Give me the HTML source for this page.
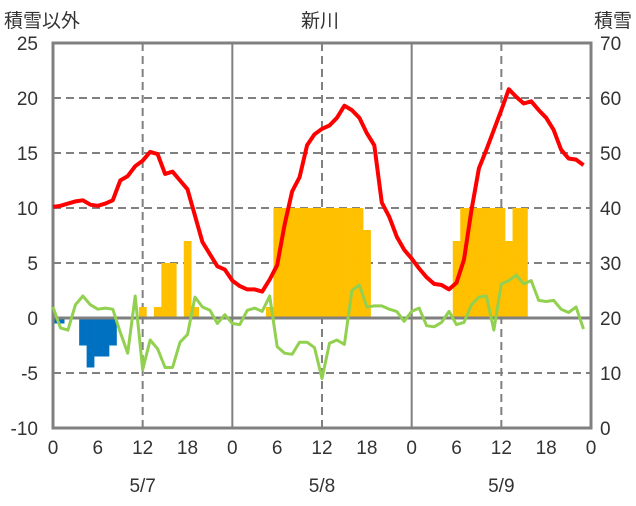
<!DOCTYPE html>
<html><head><meta charset="utf-8"><style>
body{margin:0;background:#fff;}
svg text{font-family:"Liberation Sans","Noto Sans CJK JP",sans-serif;fill:#333;}
</style></head><body>
<svg id="c" width="636" height="501" xmlns="http://www.w3.org/2000/svg"></svg>
<script>
const hours = [];
for (let i = 0; i < 72; i++) hours.push(i);
const redSeries = [10.1,10.2,10.4,10.6,10.7,10.3,10.2,10.4,10.7,12.5,12.9,13.8,14.3,15.1,14.9,13.1,13.3,12.5,11.7,9.3,6.9,5.8,4.7,4.4,
 3.4,2.9,2.6,2.6,2.4,3.5,4.8,8.5,11.5,12.8,15.7,16.7,17.2,17.5,18.2,19.3,18.9,18.2,16.8,15.7,10.5,9.2,7.4,6.2,
 5.4,4.5,3.7,3.1,3.0,2.6,3.2,5.3,9.8,13.6,15.3,17.1,18.9,20.8,20.1,19.5,19.7,18.9,18.2,17.1,15.3,14.5,14.4,13.9];
const greenSeries = [1,-0.9,-1.1,1.2,2,1.2,0.8,0.9,0.8,-1.3,-3.2,2,-4.7,-2,-2.8,-4.5,-4.5,-2.2,-1.5,1.9,1,0.7,-0.5,0.3,
 -0.5,-0.6,0.7,0.9,0.6,2,-2.6,-3.2,-3.3,-2.2,-2.2,-2.7,-5.5,-2.3,-2,-2.4,2.5,3,1,1.1,1.1,0.8,0.6,-0.3,
 0.6,0.9,-0.7,-0.8,-0.4,0.6,-0.6,-0.4,1.2,1.9,2,-1.1,3.1,3.4,3.9,3.1,3.4,1.6,1.5,1.6,0.8,0.5,1,-1];
const negBars = [-0.5,-0.5,0,0,-2.5,-4.5,-3.5,-3.5,-2.5,0,0,0,0,0,0,0,0,0,0,0,0,0,0,0,
 0,0,0,0,0,0,0,0,0,0,0,0,0,0,0,0,0,0,0,0,0,0,0,0,
 0,0,0,0,0,0,0,0,0,0,0,0,0,0,0,0,0,0,0,0,0,0,0,0];
const snowBars = [0,0,0,0,0,0,0,0,0,0,0,0,1,0,1,5,5,0,7,1,0,0,0,0,
 0,0,0,0,0,1,10,10,10,10,10,10,10,10,10,10,10,10,8,0,0,0,0,0,
 0,0,0,0,0,0,7,10,10,10,10,10,10,7,10,10,0,0,0,0,0,0,0,0];
const leftTicks = [25,20,15,10,5,0,-5,-10];
const rightTicks = [70,60,50,40,30,20,10,0];
const xTickLabels = ["0","6","12","18","0","6","12","18","0","6","12","18","0"];
const dayLabels = ["5/7","5/8","5/9"];

const svg = document.getElementById('c');
const NS = 'http://www.w3.org/2000/svg';
const X0 = 53, X1 = 591, Y0 = 43, Y1 = 428;
const xs = h => X0 + h * (X1 - X0) / 72;
const yL = v => Y1 - (v + 10) * (Y1 - Y0) / 35;
const yR = v => Y1 - v * (Y1 - Y0) / 70;
function mk(tag, attrs, parent) {
  const e = document.createElementNS(NS, tag);
  for (const k in attrs) e.setAttribute(k, attrs[k]);
  (parent || svg).appendChild(e);
  return e;
}
// grid
leftTicks.forEach(v => {
  if (v === 25 || v === -10 || v === 0) return;
  const l = mk('line', {x1:X0, x2:X1, y1:yL(v), y2:yL(v), stroke:'#808080', 'stroke-width':2, 'stroke-dasharray':'8,5'});
  
  
});
[12, 36, 60].forEach(h => {
  const l = mk('line', {x1:xs(h), x2:xs(h), y1:Y0, y2:Y1, stroke:'#808080', 'stroke-width':2, 'stroke-dasharray':'8,5'});
  
  
});
[24, 48].forEach(h => {
  const l = mk('line', {x1:xs(h), x2:xs(h), y1:Y0, y2:Y1, stroke:'#808080', 'stroke-width':2});
  
  
});
// bars
const bw = (X1 - X0) / 72;
snowBars.forEach((v, i) => {
  if (!v) return;
  const r = mk('rect', {x:xs(i) - bw/2, y:yL(v), width:bw + 0.3, height:yL(0) - yL(v), fill:'#FFC000'});
  
  
});
negBars.forEach((v, i) => {
  if (!v) return;
  const x = Math.max(X0, xs(i) - bw/2);
  const r = mk('rect', {x:x, y:yL(0), width:xs(i) + bw/2 - x + 0.3, height:yL(v) - yL(0), fill:'#0070C0'});
  
  
});
// zero line
const z = mk('line', {x1:X0, x2:X1, y1:yL(0), y2:yL(0), stroke:'#808080', 'stroke-width':3});


// frame
const f = mk('rect', {x:X0, y:Y0, width:X1 - X0, height:Y1 - Y0, fill:'none', stroke:'#808080', 'stroke-width':3});


// lines
const gp = mk('polyline', {points: greenSeries.map((v, i) => xs(hours[i]) + ',' + yL(v)).join(' '), fill:'none', stroke:'#92D050', 'stroke-width':3, 'stroke-linejoin':'round'});


const rp = mk('polyline', {points: redSeries.map((v, i) => xs(hours[i]) + ',' + yL(v)).join(' '), fill:'none', stroke:'#FF0000', 'stroke-width':4, 'stroke-linejoin':'round'});


// ticks
leftTicks.forEach(v => {
  const t = mk('text', {x:38, y:yL(v) + 7, 'text-anchor':'end', 'font-size':19});
  t.textContent = v;
  
  
});
rightTicks.forEach(v => {
  const t = mk('text', {x:600, y:yR(v) + 7, 'font-size':19});
  t.textContent = v;
  
  
});
xTickLabels.forEach((s, i) => {
  const t = mk('text', {x:xs(i * 6), y:454, 'text-anchor':'middle', 'font-size':19});
  t.textContent = s;
  
  
});
dayLabels.forEach((s, i) => {
  const t = mk('text', {x:xs(12 + i * 24), y:492, 'text-anchor':'middle', 'font-size':19});
  t.textContent = s;
  
  
});
const tt = mk('text', {x:320, y:27, 'text-anchor':'middle', 'font-size':19});
tt.textContent = '新川';


const lt = mk('text', {x:4, y:27, 'font-size':19});
lt.textContent = '積雪以外';


const rt = mk('text', {x:632, y:27, 'text-anchor':'end', 'font-size':19});
rt.textContent = '積雪';


</script>
</body></html>
